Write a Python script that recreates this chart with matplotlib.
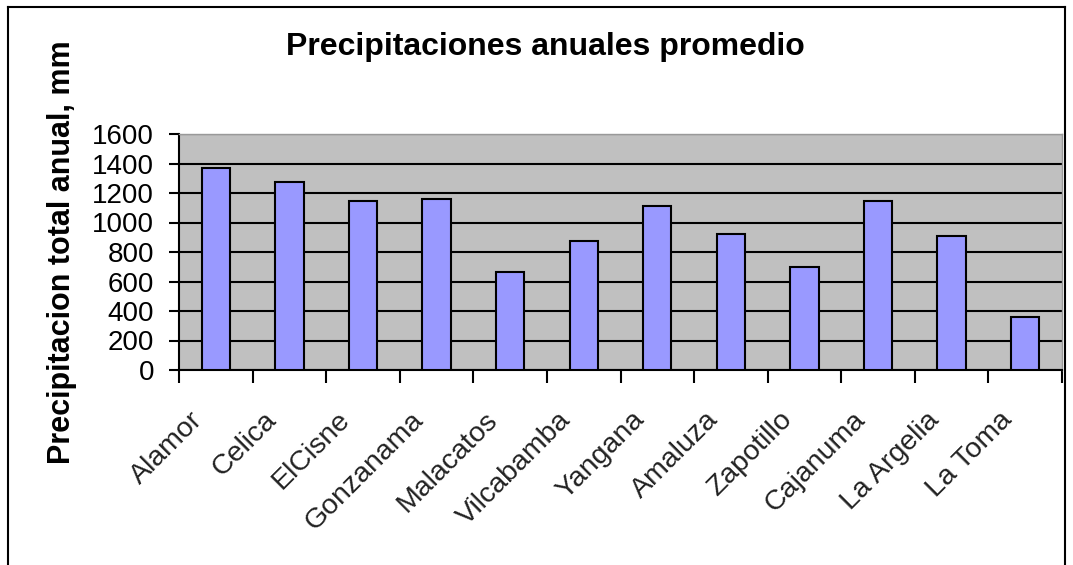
import matplotlib
matplotlib.use("Agg")
import matplotlib.pyplot as plt
from matplotlib.lines import Line2D
import matplotlib.transforms as mtransforms
import numpy as np

stations = ["Alamor", "Celica", "ElCisne", "Gonzanama", "Malacatos", "Vilcabamba",
            "Yangana", "Amaluza", "Zapotillo", "Cajanuma", "La Argelia", "La Toma"]
precip = [1367, 1275, 1148, 1161, 664, 872, 1112, 920, 698, 1148, 906, 361]
yticks = [0, 200, 400, 600, 800, 1000, 1200, 1400, 1600]

plt.rcParams['font.family'] = ['Liberation Sans', 'DejaVu Sans']

W, H = 1073, 565
fig = plt.figure(figsize=(W / 100, H / 100), dpi=100)
fig.patch.set_facecolor('white')

x0, x1, y0, y1 = 179, 1062, 134, 370
ax = fig.add_axes([x0 / W, 1 - y1 / H, (x1 - x0) / W, (y1 - y0) / H])
ax.set_facecolor('#C0C0C0')

x = np.arange(len(stations))
ax.bar(x, precip, width=0.385, color='#9999FF', edgecolor='black', linewidth=1.5, zorder=3)
ax.set_xlim(-0.5, len(stations) - 0.5)
ax.set_ylim(0, 1600)
ax.set_yticks(yticks)
ax.set_yticklabels([str(v) for v in yticks], fontsize=20)
ax.yaxis.grid(True, color='black', linewidth=1.5, zorder=1)
ax.set_axisbelow(True)

ax.set_xticks(np.arange(-0.5, len(stations), 1.0))
ax.set_xticklabels([])
ax.set_xticks(x, minor=True)
ax.set_xticklabels(stations, minor=True, rotation=45, ha='right', va='top',
                   rotation_mode='anchor', fontsize=20.5, color='#222222')
ax.tick_params(axis='x', which='minor', length=0, pad=12)
ax.tick_params(axis='x', which='major', length=9, width=1.5, direction='out')
ax.tick_params(axis='y', length=7, width=1.5, direction='out', pad=11)

offset = mtransforms.ScaledTranslation(-26 / 100, -20 / 100, fig.dpi_scale_trans)
for lbl in ax.get_xticklabels(minor=True):
    lbl.set_transform(lbl.get_transform() + offset)

for s in ['left', 'bottom']:
    ax.spines[s].set_linewidth(1.5)
    ax.spines[s].set_color('black')
for s in ['top', 'right']:
    ax.spines[s].set_color('#999999')
    ax.spines[s].set_linewidth(1.0)

fig.text(545 / W, 1 - 47 / H, "Precipitaciones anuales promedio", ha='center', va='center',
         fontsize=23, fontweight='bold')
fig.text(62 / W, 1 - 252 / H, "Precipitacion total anual, mm", ha='center', va='center',
         rotation=90, fontsize=22, fontweight='bold')

# outer chart border
bx0, bx1, by0 = 8 / W, 1065 / W, 1 - 7 / H
fig.add_artist(Line2D([bx0, bx0], [0, by0], transform=fig.transFigure, color='black', lw=1.5))
fig.add_artist(Line2D([bx0, bx1], [by0, by0], transform=fig.transFigure, color='black', lw=1.5))
fig.add_artist(Line2D([bx1, bx1], [0, by0], transform=fig.transFigure, color='black', lw=1.5))

fig.savefig("out.png", dpi=100)
